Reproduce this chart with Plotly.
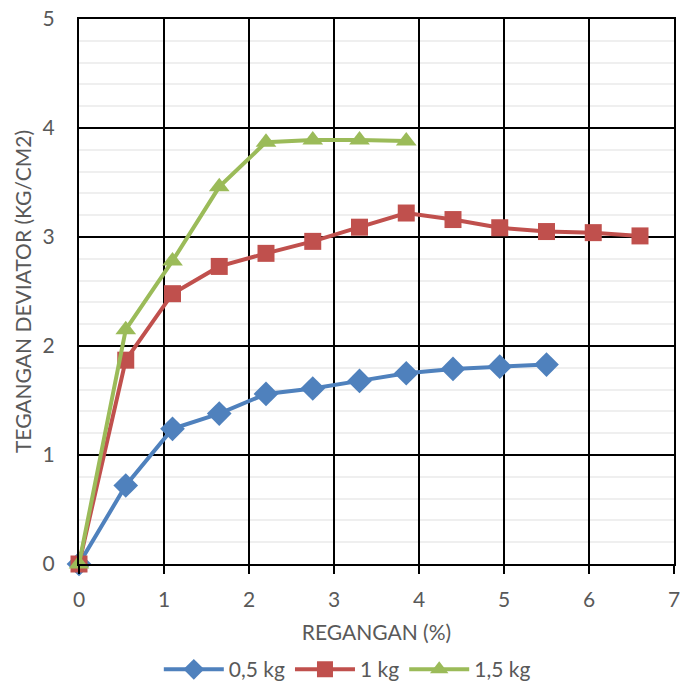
import plotly.graph_objects as go

# Strain (%) and deviator stress (kg/cm2) for each load
strain = [0, 0.55, 1.1, 1.65, 2.2, 2.75, 3.3, 3.85, 4.4, 4.95, 5.5, 6.05, 6.6]

stress_05 = [0, 0.72, 1.24, 1.38, 1.56, 1.61, 1.68, 1.75, 1.79, 1.81, 1.83]
stress_10 = [0, 1.87, 2.48, 2.73, 2.85, 2.96, 3.09, 3.22, 3.16, 3.085, 3.05, 3.04, 3.01]
stress_15 = [0, 2.15, 2.78, 3.46, 3.87, 3.89, 3.89, 3.88]

series = [
    ("0,5 kg", stress_05, "#4F81BD", "diamond", 19),
    ("1 kg", stress_10, "#C0504D", "square", 17),
    ("1,5 kg", stress_15, "#9BBB59", "triangle-up", 18),
]

FONT = "Lato, Open Sans, sans-serif"
GREY = "#595959"
FS = 21

fig = go.Figure()
for name, ys, color, symbol, size in series:
    fig.add_trace(go.Scatter(
        x=strain[:len(ys)], y=ys, name=name, mode="lines+markers",
        line=dict(color=color, width=4),
        marker=dict(symbol=symbol, size=size, color=color),
        cliponaxis=False,
    ))

fig.update_layout(
    width=681, height=684,
    margin=dict(l=79, r=7, t=19, b=120, autoexpand=False),
    plot_bgcolor="white", paper_bgcolor="white",
    font=dict(family=FONT, color=GREY, size=FS),
    showlegend=True,
    legend=dict(orientation="h", x=0.51, xanchor="center", xref="container",
                y=0.021, yanchor="middle", yref="container",
                font=dict(size=FS, color=GREY), itemwidth=60),
    xaxis=dict(
        range=[0, 7], dtick=1, tick0=0,
        showgrid=True, gridcolor="black", gridwidth=1.5,
        showline=True, linecolor="black", linewidth=2, mirror=True,
        ticks="outside", ticklen=8, tickcolor="black", tickwidth=1.5,
        ticklabelstandoff=8,
        zeroline=False, tickfont=dict(size=FS, color=GREY),
        title=dict(text="REGANGAN (%)", font=dict(size=FS, color=GREY), standoff=15),
    ),
    yaxis=dict(
        range=[0, 5], dtick=1, tick0=0,
        showgrid=True, gridcolor="black", gridwidth=1.5,
        showline=True, linecolor="black", linewidth=2, mirror=True,
        zeroline=False, tickfont=dict(size=FS, color=GREY), ticks="",
        ticklabelstandoff=18,
        minor=dict(dtick=0.2, showgrid=True, gridcolor="#EFEFEF", gridwidth=1.5),
        title=dict(text="TEGANGAN DEVIATOR (KG/CM2)", font=dict(size=FS, color=GREY), standoff=5),
    ),
)

fig.write_html("out.html")
